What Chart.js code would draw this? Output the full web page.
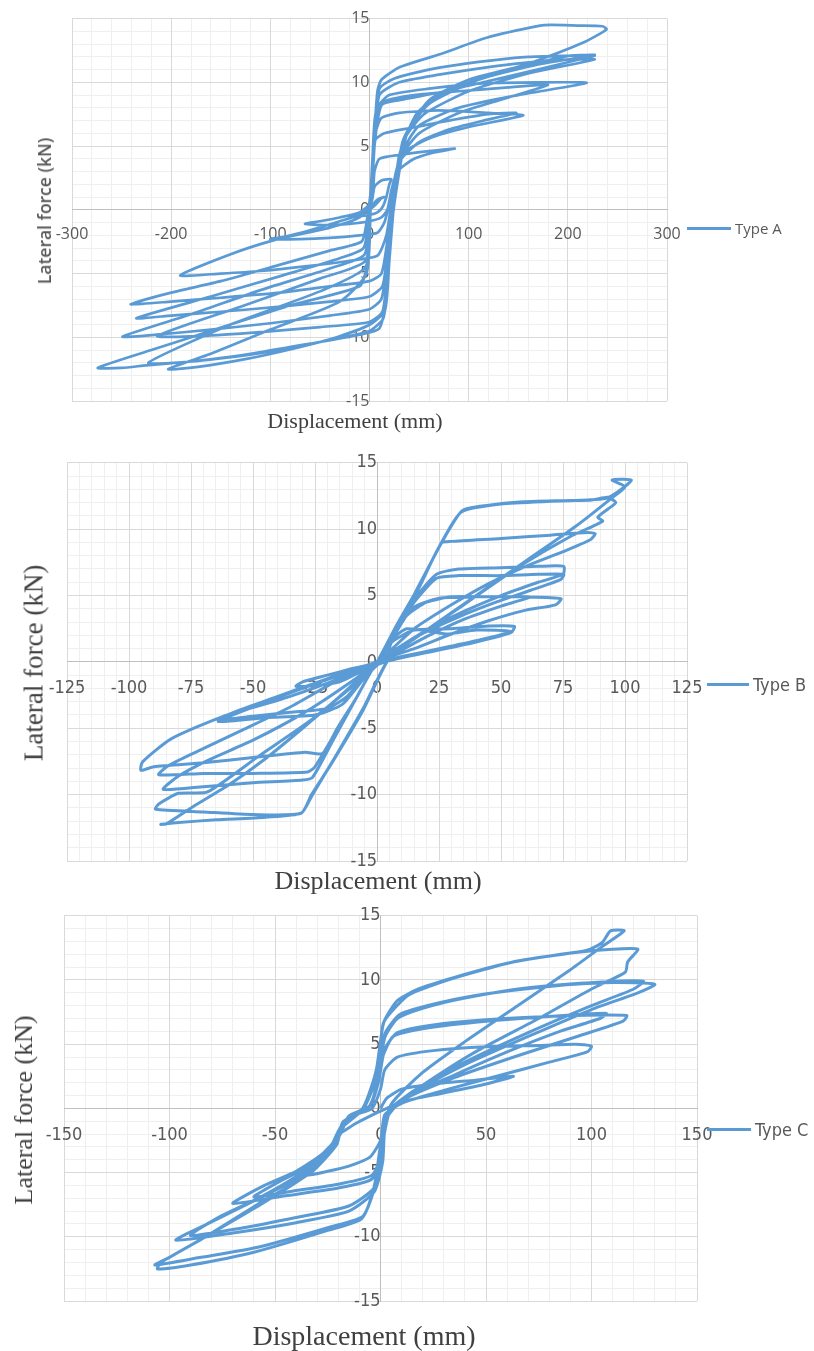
<!DOCTYPE html>
<html>
<head>
<meta charset="utf-8">
<title>Hysteresis curves - Type A, B, C</title>
<script src="https://cdn.jsdelivr.net/npm/chart.js@4.4.0/dist/chart.umd.min.js"></script>
<style>
  body { margin: 0; background: #fff; }
  #page { position: relative; width: 814px; height: 1351px; overflow: hidden; background: #fff; }
  canvas { position: absolute; left: 0; }
  .title { position: absolute; white-space: nowrap; transform: translate(-50%, -50%); line-height: 1; }
  .title.rot { transform: translate(-50%, -50%) rotate(-90deg); }
  .serif { font-family: 'Liberation Serif', 'Times New Roman', serif; color: #404040; }
  .legend { position: absolute; display: flex; align-items: center; height: 20px; white-space: nowrap; color: #595959; }
  .legend .swatch { display: inline-block; height: 3px; background: #5b9bd5; margin-right: 4px; }
</style>
</head>
<body>
<div id="page">
  <canvas id="chartA" width="814" height="440" style="top:0px"></canvas>
  <canvas id="chartB" width="814" height="450" style="top:440px"></canvas>
  <canvas id="chartC" width="814" height="461" style="top:890px"></canvas>

  <div class="title rot" style="left:44px; top:211px; font: 600 17.5px 'Open Sans', sans-serif; color:#595959;">Lateral force (kN)</div>
  <div class="title serif" style="left:355px; top:421px; font-size:22px;">Displacement (mm)</div>
  <div class="legend" style="left:687px; top:218px; font: 15px 'Open Sans', sans-serif;"><span class="swatch" style="width:44px"></span>Type A</div>

  <div class="title rot serif" style="left:34px; top:663px; font-size:27px;">Lateral force (kN)</div>
  <div class="title serif" style="left:378px; top:881px; font-size:26px;">Displacement (mm)</div>
  <div class="legend" style="left:707px; top:674px; font: 18px 'Liberation Sans Narrow', 'DejaVu Sans Condensed', sans-serif;"><span class="swatch" style="width:42px"></span>Type B</div>

  <div class="title rot serif" style="left:24px; top:1110px; font-size:26px;">Lateral force (kN)</div>
  <div class="title serif" style="left:364px; top:1336px; font-size:28px;">Displacement (mm)</div>
  <div class="legend" style="left:707px; top:1119px; font: 18px 'Liberation Sans Narrow', 'DejaVu Sans Condensed', sans-serif;"><span class="swatch" style="width:44px"></span>Type C</div>
</div>

<script>
// Series names
const seriesNames = ['Type A', 'Type B', 'Type C'];

// Tick labels of each panel
const xTicksA = [-300, -200, -100, 0, 100, 200, 300];
const xTicksB = [-125, -100, -75, -50, -25, 0, 25, 50, 75, 100, 125];
const xTicksC = [-150, -100, -50, 0, 50, 100, 150];
const yTicks = [-15, -10, -5, 0, 5, 10, 15];

// Type A: displacement (mm), lateral force (kN) read along the loops
const pathA = [
  [0,0],[6,0.4],[12,0.9],[15,1.0],[8,0.8],[2,0.3],[-5,-0.1],[-14,-0.4],[-20,-0.6],[-10,-0.5],[0,-0.4],[8,-0.2],[13,0.2],
  [17,1.0],[20,2.0],[22,2.4],[12,2.3],[5,1.8],[2,0.6],[-10,-0.2],[-30,-0.6],[-50,-0.9],[-65,-1.1],[-45,-1.2],[-20,-1.1],[0,-0.9],[12,-0.6],[18,0],
  [22,1.5],[28,3.0],[45,4.0],[65,4.5],[86,4.8],[60,4.6],[30,4.3],[10,4.0],[5,3.0],[3,1.0],[-5,-0.2],[-30,-0.9],[-60,-1.6],[-85,-2.1],[-100,-2.3],[-70,-2.3],[-40,-2.2],[-10,-2.0],[8,-1.8],[15,-1.0],
  [20,0.5],[24,2.0],[30,3.8],[50,5.3],[80,6.3],[115,7.0],[148,7.6],[120,7.5],[80,7.0],[40,6.4],[15,6.0],[6,5.5],[3,3.0],[1,0.5],[-10,-0.6],[-40,-1.4],[-97,-2.4],[-144,-3.6],[-191,-5.15],[-150,-5.0],[-110,-4.8],[-60,-4.4],[-20,-4.0],[8,-3.6],[17,-2.0],
  [22,0.5],[26,2.5],[35,4.5],[60,5.6],[100,6.5],[155,7.4],[120,7.6],[70,7.8],[30,7.6],[12,7.2],[6,6.0],[2,2.0],[-3,-1.0],[-8,-2.5],[-40,-3.2],[-90,-4.3],[-150,-5.6],[-200,-6.5],[-241,-7.4],[-200,-7.2],[-150,-6.9],[-90,-6.5],[-40,-6.0],[0,-5.6],[12,-5.0],[17,-3.0],
  [21,-0.5],[25,1.5],[32,4.2],[50,6.0],[90,7.6],[135,8.7],[180,9.8],[140,9.6],[90,9.3],[45,9.0],[15,8.5],[6,7.5],[3,4.0],[0,0],[-6,-3.0],[-30,-3.8],[-90,-5.2],[-160,-6.8],[-235,-8.5],[-200,-8.3],[-150,-8.0],[-90,-7.6],[-40,-7.2],[0,-6.8],[13,-6.0],[18,-3.5],
  [22,-1.0],[26,1.5],[33,4.5],[50,6.6],[90,8.0],[150,9.0],[219,9.95],[170,10.0],[110,9.9],[60,9.5],[20,9.0],[8,8.0],[4,4.0],[0,0],[-5,-3.5],[-40,-4.6],[-110,-6.3],[-180,-8.2],[-249,-9.95],[-215,-9.8],[-160,-9.4],[-100,-8.9],[-40,-8.3],[0,-7.8],[12,-7.0],[18,-4.0],
  [22,-1.0],[27,2.0],[35,5.5],[55,7.5],[100,9.3],[160,10.7],[227,11.8],[180,11.7],[120,11.2],[70,10.6],[30,10.0],[10,9.0],[5,5.0],[1,0],[-4,-4.0],[-50,-5.4],[-130,-7.6],[-214,-9.9],[-170,-9.9],[-110,-9.6],[-50,-9.2],[0,-8.8],[13,-8.0],[18,-5.0],
  [22,-1.5],[28,2.0],[38,6.0],[60,8.3],[110,10.2],[170,11.4],[227,12.15],[205,12.1],[160,12.0],[110,11.6],[60,11.0],[25,10.3],[10,9.5],[5,6.0],[1,0],[-4,-4.5],[-50,-6.4],[-140,-9.0],[-223,-12.0],[-180,-11.9],[-120,-11.3],[-60,-10.5],[-10,-9.8],[10,-9.3],[17,-7.0],
  [21,-2.0],[25,1.0],[30,4.3],[47.6,7.56],[74,9.1],[114.7,10.4],[165,11.6],[215,13.1],[239,14.15],[235,14.4],[210,14.45],[183,14.5],[172,14.45],[118,13.5],[71,12.2],[30.7,11.2],[12,10.2],[8,9.3],[5,6.0],[1,0],[-3,-4.5],[-10,-6.0],[-80,-7.5],[-160,-9.5],[-220,-11.0],[-274,-12.4],[-250,-12.4],[-225,-12.2],[-180,-11.9],[-124,-11.4],[-77,-10.8],[-33,-10.1],[0,-9.5],[14,-8.5],[18,-5.5],
  [22,-2.0],[26,1.5],[34,5.5],[60,8.6],[100,10.2],[150,11.2],[203,12.1],[227,12.1],[222,12.0],[180,11.2],[120,10.1],[70,9.2],[30,8.6],[12,8.2],[5,5.0],[1,0],[-3,-5.0],[-30,-7.2],[-100,-9.4],[-160,-11.3],[-203,-12.5],[-171,-12.3],[-124,-11.7],[-77,-10.9],[-33,-10.0],[0.5,-9.0],[15.6,-7.9],[20,-4.0],[24,0]
];

// Type B
const pathB = [
  [0,0],[5,1.5],[12,2.5],[28,2.1],[40,2.4],[54.3,2.3],[40,1.6],[25,1.0],[10,0.4],[0,0],[-8,-0.5],[-16,-0.9],[-10,-0.7],[-3,-0.3],[0,0],
  [6,1.5],[15,2.4],[30,2.5],[45,2.7],[55.4,2.67],[54,2.2],[40,1.5],[20,0.7],[5,0.1],[-5,-0.6],[-15,-1.5],[-25,-1.8],[-32.7,-1.84],[-30,-1.5],[-20,-1.0],[-10,-0.5],[0,0],
  [5,1.6],[12,3.5],[20,4.5],[30,4.9],[45,4.9],[61.7,4.9],[50,4.2],[35,3.2],[20,1.9],[8,0.7],[0,0],[-5,-1.0],[-12,-2.6],[-20,-3.5],[-35,-3.8],[-50,-4.1],[-64.2,-4.35],[-55,-3.6],[-40,-2.6],[-25,-1.6],[-10,-0.6],[0,0],
  [6,1.7],[14,4.0],[25,4.8],[40,4.9],[60,4.9],[74.2,4.77],[72,4.3],[60,3.9],[45,3.1],[30,2.1],[15,1.0],[3,0.2],[-5,-1.2],[-14,-3.2],[-25,-4.0],[-45,-4.2],[-64,-4.5],[-50,-3.4],[-30,-2.0],[-12,-0.8],[0,0],
  [7,2.2],[15,4.7],[24,6.6],[33,7.0],[50,7.1],[65,7.2],[75.3,7.2],[75,6.6],[65,6.0],[50,5.0],[35,3.8],[20,2.4],[8,1.0],[0,0],[-8,-2.6],[-16,-5.0],[-22,-6.9],[-29,-6.8],[-50,-7.2],[-70,-7.6],[-90,-7.9],[-95.2,-8.17],[-94.6,-7.55],[-83,-5.8],[-62,-4.1],[-40,-2.9],[-20,-1.6],[-5,-0.4],[3,0.2],
  [7,2.1],[15,4.5],[24,6.3],[33,6.5],[50,6.5],[65,6.6],[75.3,6.6],[74,6.2],[62,5.4],[48,4.5],[33,3.4],[18,2.1],[7,0.8],[0,0],[-8,-2.6],[-17,-5.4],[-25,-7.9],[-28,-8.3],[-50,-8.4],[-70,-8.4],[-88,-8.5],[-84,-7.8],[-72,-6.7],[-55,-5.2],[-35,-3.4],[-15,-1.3],[0,0],
  [8,2.6],[17,5.6],[26,8.96],[30,9.08],[50,9.3],[70,9.55],[85,9.75],[88,9.65],[86,9.2],[75,8.3],[60,7.2],[45,5.9],[30,4.3],[15,2.5],[5,0.8],[0,0],[-8,-2.6],[-18,-6.0],[-26,-8.7],[-30,-8.9],[-50,-9.1],[-70,-9.4],[-86.2,-9.6],[-80,-8.6],[-68,-7.4],[-50,-5.9],[-30,-3.9],[-12,-1.7],[0,0],
  [8,2.6],[15.5,5.26],[26,8.96],[34.4,11.4],[45,11.8],[57.5,12.05],[75,12.15],[87,12.2],[93,12.4],[96.3,12.0],[93,11.5],[89,10.9],[91,10.6],[78,9.45],[57.5,7.2],[36.5,4.5],[15.5,1.8],[5,0.3],[-5.5,-3.6],[-18,-7.55],[-26.4,-10.0],[-30.6,-11.4],[-50,-11.5],[-70,-11.3],[-89.3,-11.1],[-88,-10.7],[-80,-9.9],[-68.4,-9.8],[-47.4,-7.06],[-26.4,-4.35],[-5.5,-1.14],[0,0],
  [8,2.8],[16,5.4],[26,9.0],[34,11.3],[50,11.9],[70,12.1],[85,12.2],[92,12.3],[97,12.8],[102.6,13.7],[94.8,13.7],[100,13.2],[95,12.4],[80,10.2],[60,7.6],[40,5.0],[20,2.4],[5,0.3],[-5,-3.3],[-17,-7.2],[-26,-10.0],[-30.6,-11.4],[-45,-11.7],[-65,-11.9],[-80,-12.1],[-87.2,-12.24],[-85,-12.2],[-75,-11.0],[-60,-9.3],[-45,-7.3],[-30,-5.0],[-15,-2.6],[0,0]
];

// Type C
const pathC = [
  [0,0],[3,0.8],[10,1.5],[25,1.9],[45,2.2],[63,2.5],[50,1.9],[30,1.2],[12,0.6],[3,0],[-5,-0.6],[-12,-1.2],[-20,-2.0],[-18,-1.2],[-12,-0.5],[-4,0],
  [0,1.5],[2,3.0],[8,4.0],[25,4.5],[50,4.8],[75,4.9],[92.6,5.0],[100,4.84],[98,4.4],[80,3.6],[55,2.5],[30,1.4],[10,0.4],[2,-0.5],[0,-2.5],[-5,-3.8],[-15,-4.5],[-25,-4.9],[-35.5,-5.2],[-30,-4.3],[-22,-3.0],[-19,-1.8],[-15,-0.6],[-6,0],
  [-2,1.5],[1,4.0],[6,5.6],[20,6.2],[45,6.7],[75,7.1],[107,7.4],[104,7.0],[85,6.0],[60,4.4],[35,2.6],[10,0.7],[2,-1.0],[1,-3.3],[-4,-5.2],[-20,-5.9],[-40,-6.4],[-60,-6.9],[-48,-5.7],[-35,-4.6],[-25,-3.3],[-19,-2.0],[-15,-0.6],[-5,0.2],
  [-1,2.0],[2,4.6],[8,5.9],[25,6.5],[50,6.9],[85,7.2],[116.7,7.24],[115,6.8],[95,5.7],[65,4.1],[35,2.4],[10,0.6],[2,-1.0],[1,-3.5],[-4,-5.5],[-20,-6.2],[-45,-6.8],[-70,-7.4],[-55,-6.0],[-40,-4.9],[-28,-3.6],[-20,-2.2],[-15,-0.6],[-5,0.2],
  [-1,2.5],[2,5.5],[8,7.0],[20,7.8],[40,8.6],[70,9.4],[105,9.85],[124.6,9.9],[120,9.3],[100,8.0],[70,5.9],[40,3.6],[15,1.3],[3,-0.5],[1,-4.0],[-3,-6.2],[-15,-7.6],[-40,-8.5],[-65,-9.3],[-90,-9.9],[-78,-8.6],[-58,-7.0],[-40,-5.3],[-25,-3.4],[-19,-1.5],[-8,0],
  [-1,2.8],[2,5.8],[9,7.3],[22,8.0],[45,8.8],[80,9.5],[110,9.8],[130,9.66],[122,9.0],[100,7.7],[70,5.6],[40,3.4],[15,1.2],[3,-0.5],[1,-4.2],[-3,-6.5],[-15,-8.0],[-40,-8.9],[-70,-9.7],[-97,-10.26],[-82,-9.0],[-60,-7.2],[-40,-5.5],[-25,-3.5],[-19,-1.6],[-8,0],
  [-2,3.0],[1.5,6.67],[8,8.4],[18,9.3],[35,10.2],[60,11.3],[90,12.1],[110,12.4],[122,12.4],[118,11.6],[117,11.35],[116,10.6],[100,9.3],[75,7.0],[45,4.4],[20,1.8],[5,0],[1,-2.7],[-3.4,-6.35],[-8.4,-8.4],[-23,-9.2],[-57.6,-10.8],[-85,-11.6],[-106.9,-12.2],[-100,-11.6],[-82,-9.9],[-57.6,-7.4],[-33,-5.0],[-20.7,-2.8],[-18,-1.1],[-8.4,0],
  [-1,3.5],[1.5,6.7],[12.6,8.75],[23.6,9.53],[40.9,10.44],[65.5,11.5],[97.5,12.3],[105,12.9],[109,13.83],[115.5,13.83],[105,12.6],[90,10.8],[65,8.0],[40,5.2],[20,2.8],[5,0.3],[0.2,-2.7],[-3.4,-6.5],[-9,-8.6],[-25,-9.5],[-60,-11.2],[-90,-12.2],[-105.7,-12.5],[-104,-12.0],[-85,-10.2],[-60,-7.8],[-35,-5.2],[-20,-2.5]
];

const lineColor = '#5b9bd5';
const labelColor = '#595959';

// Build one panel: axes cross at the origin like the Excel original
function buildPanel(canvasId, name, path, xTicks, xMinorStep, cfg) {
    const ctx = document.getElementById(canvasId).getContext('2d');
    const xMin = xTicks[0], xMax = xTicks[xTicks.length - 1];
    const yMin = yTicks[0], yMax = yTicks[yTicks.length - 1];
    const noHeight = s => { s.height = 0; };
    const noWidth = s => { s.width = 0; };

    return new Chart(ctx, {
        type: 'scatter',
        data: {
            datasets: [{
                label: name,
                data: path.map(p => ({ x: p[0], y: p[1] })),
                showLine: true,
                borderColor: lineColor,
                borderWidth: cfg.lineWidth,
                pointRadius: 0,
                tension: 0.2,
                fill: false
            }]
        },
        options: {
            responsive: false,
            animation: false,
            events: [],
            layout: { padding: cfg.padding },
            plugins: { legend: { display: false }, tooltip: { enabled: false } },
            scales: {
                // minor gridlines
                xMinor: {
                    type: 'linear', min: xMin, max: xMax, position: { y: 0 },
                    ticks: { display: false, stepSize: xMinorStep },
                    grid: { color: '#efefef', drawTicks: false, z: -2 },
                    border: { display: false },
                    afterFit: noHeight
                },
                yMinor: {
                    type: 'linear', min: yMin, max: yMax, position: { x: 0 },
                    ticks: { display: false, stepSize: 1 },
                    grid: { color: '#efefef', drawTicks: false, z: -2 },
                    border: { display: false },
                    afterFit: noWidth
                },
                // major gridlines + labels
                x: {
                    type: 'linear', min: xMin, max: xMax, position: { y: 0 },
                    afterBuildTicks: s => { s.ticks = xTicks.map(v => ({ value: v })); },
                    ticks: { color: labelColor, font: cfg.tickFont, padding: cfg.xPad, autoSkip: false, maxRotation: 0 },
                    grid: { color: '#d9d9d9', drawTicks: false },
                    border: { color: '#bfbfbf' },
                    afterFit: noHeight
                },
                y: {
                    type: 'linear', min: yMin, max: yMax, position: { x: 0 },
                    afterBuildTicks: s => { s.ticks = yTicks.map(v => ({ value: v })); },
                    ticks: { color: labelColor, font: cfg.tickFont, padding: cfg.yPad, autoSkip: false },
                    grid: { color: '#d9d9d9', drawTicks: false },
                    border: { color: '#bfbfbf' },
                    afterFit: noWidth
                }
            }
        }
    });
}

const narrowFont = "'Liberation Sans Narrow', 'DejaVu Sans Condensed', sans-serif";

buildPanel('chartA', seriesNames[0], pathA, xTicksA, 20, {
    lineWidth: 2.7,
    padding: { left: 72, right: 147, top: 14, bottom: 39 },
    tickFont: { family: "'Open Sans', sans-serif", size: 16 },
    xPad: 15, yPad: 9
});

buildPanel('chartB', seriesNames[1], pathB, xTicksB, 5, {
    lineWidth: 3,
    padding: { left: 67, right: 127, top: 14, bottom: 29 },
    tickFont: { family: narrowFont, size: 18 },
    xPad: 16, yPad: 12
});

buildPanel('chartC', seriesNames[2], pathC, xTicksC, 10, {
    lineWidth: 3,
    padding: { left: 64, right: 117, top: 25, bottom: 50 },
    tickFont: { family: narrowFont, size: 18 },
    xPad: 16, yPad: 15
});
</script>
</body>
</html>
